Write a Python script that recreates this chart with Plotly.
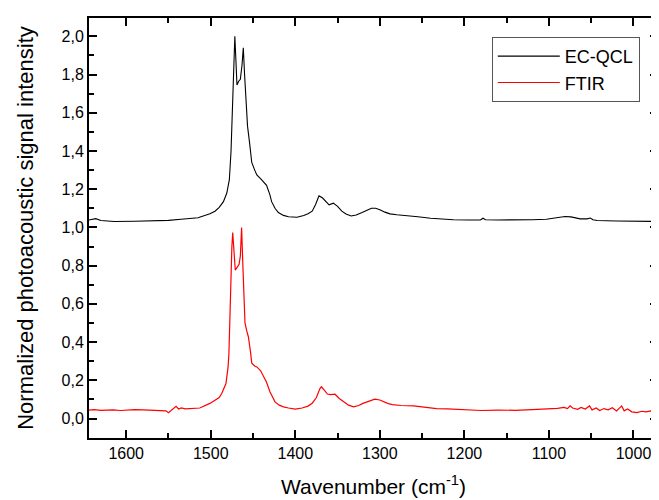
import plotly.graph_objects as go

# EC-QCL spectrum (black)
qcl_x = [1645, 1636, 1630, 1614, 1590, 1566, 1550, 1535, 1524, 1515, 1501, 1495, 1490, 1485, 1481,
         1478, 1476, 1475, 1473, 1471.5, 1470, 1469, 1467, 1465, 1463, 1461.5, 1460, 1458, 1456.5,
         1454, 1451.5, 1448, 1445.5, 1440, 1434, 1430, 1428, 1424, 1420, 1414, 1408, 1398, 1390,
         1385, 1380, 1376, 1372, 1368, 1364, 1360, 1355, 1350, 1345, 1340, 1334, 1328, 1321, 1315,
         1310, 1305, 1300, 1294, 1288, 1280, 1268, 1255, 1240, 1225, 1213, 1195, 1181, 1178, 1175,
         1160, 1142, 1120, 1103, 1095, 1088, 1081, 1074, 1068, 1063, 1055, 1051, 1048, 1043, 1020,
         1000, 985, 971]
qcl_y = [1.038, 1.046, 1.036, 1.031, 1.032, 1.034, 1.037, 1.043, 1.046, 1.051, 1.072, 1.085, 1.105,
         1.135, 1.18, 1.25, 1.40, 1.56, 1.83, 2.00, 1.85, 1.745, 1.765, 1.775, 1.85, 1.94, 1.80,
         1.62, 1.53, 1.44, 1.34, 1.30, 1.275, 1.25, 1.22, 1.17, 1.135, 1.10, 1.078, 1.063, 1.056,
         1.053, 1.062, 1.072, 1.085, 1.12, 1.165, 1.155, 1.135, 1.118, 1.127, 1.11, 1.085, 1.07,
         1.06, 1.065, 1.078, 1.092, 1.100, 1.100, 1.093, 1.08, 1.071, 1.066, 1.062, 1.056, 1.048,
         1.043, 1.040, 1.039, 1.039, 1.048, 1.040, 1.039, 1.039, 1.040, 1.043, 1.048, 1.054, 1.057,
         1.055, 1.048, 1.045, 1.045, 1.049, 1.040, 1.036, 1.034, 1.033, 1.032, 1.031]

# FTIR spectrum (red)
ftir_x = [1645, 1638, 1630, 1622, 1615, 1607, 1600, 1590, 1580, 1570, 1560, 1553, 1550, 1547, 1543,
          1541, 1538, 1535, 1530, 1525, 1513, 1501, 1495, 1490, 1487, 1482, 1479.5, 1478.5, 1477.5,
          1476.5, 1475, 1474, 1472.5, 1471, 1469, 1466.5, 1465, 1463.5, 1462, 1460.5, 1459.5, 1457.5,
          1455.5, 1453, 1451.5, 1448, 1445.5, 1441, 1438, 1434, 1430, 1427, 1424, 1419, 1414, 1408,
          1400, 1392, 1385, 1380, 1375, 1371, 1369, 1366, 1362, 1358, 1353, 1348, 1343, 1337, 1331,
          1325, 1320, 1313, 1306, 1300, 1297, 1290, 1285, 1275, 1260, 1250, 1240, 1233, 1220, 1205,
          1195, 1180, 1160, 1140, 1120, 1100, 1090, 1082, 1078, 1075, 1072, 1066, 1062, 1057, 1052,
          1049, 1044, 1040, 1035, 1030, 1025, 1020, 1016, 1014, 1011, 1007, 1002, 996, 990, 985,
          980, 975, 971]
ftir_y = [0.044, 0.046, 0.043, 0.045, 0.045, 0.042, 0.044, 0.046, 0.045, 0.043, 0.043, 0.040, 0.030,
          0.040, 0.055, 0.064, 0.050, 0.055, 0.050, 0.052, 0.055, 0.079, 0.095, 0.11, 0.131, 0.183,
          0.27, 0.34, 0.50, 0.69, 0.90, 0.973, 0.85, 0.777, 0.79, 0.807, 0.85, 1.000, 0.80, 0.60,
          0.50, 0.46, 0.428, 0.35, 0.29, 0.275, 0.27, 0.25, 0.227, 0.19, 0.14, 0.11, 0.087, 0.07,
          0.061, 0.055, 0.049, 0.055, 0.065, 0.08, 0.11, 0.155, 0.166, 0.15, 0.128, 0.125, 0.127,
          0.105, 0.087, 0.07, 0.061, 0.068, 0.079, 0.092, 0.101, 0.097, 0.091, 0.078, 0.073, 0.068,
          0.066, 0.060, 0.055, 0.052, 0.050, 0.047, 0.044, 0.042, 0.044, 0.043, 0.046, 0.050, 0.053,
          0.058, 0.052, 0.066, 0.055, 0.048, 0.058, 0.050, 0.066, 0.045, 0.055, 0.042, 0.052, 0.045,
          0.056, 0.040, 0.060, 0.066, 0.040, 0.050, 0.035, 0.031, 0.038, 0.035, 0.040, 0.028, 0.026]

FONT = "Liberation Sans, Arial, sans-serif"

fig = go.Figure()
fig.add_trace(go.Scatter(x=qcl_x, y=qcl_y, mode="lines", name="EC-QCL",
                         line=dict(color="black", width=1.1)))
fig.add_trace(go.Scatter(x=ftir_x, y=ftir_y, mode="lines", name="FTIR",
                         line=dict(color="red", width=1.2)))

axis_common = dict(showline=True, linecolor="black", linewidth=2, mirror="ticks",
                   ticks="inside", ticklen=8, tickwidth=2, tickcolor="black",
                   showgrid=False, zeroline=False, automargin=False,
                   tickfont=dict(family=FONT, size=16, color="black"))

fig.update_layout(
    width=651, height=492,
    margin=dict(l=81, r=1, t=10, b=62),
    paper_bgcolor="white", plot_bgcolor="white",
    separators=",.",
    showlegend=True,
    legend=dict(x=0.968, y=0.955, xanchor="right", yanchor="top",
                bordercolor="#555555", borderwidth=1, bgcolor="white",
                font=dict(family=FONT, size=18, color="black"),
                tracegroupgap=0, itemwidth=62),
    xaxis=dict(range=[1644, 971], tickvals=[1600, 1500, 1400, 1300, 1200, 1100, 1000],
               tickformat="d",
               minor=dict(dtick=50, tick0=1000, ticks="inside", ticklen=5, tickwidth=2,
                          tickcolor="black"),
               title=dict(text="Wavenumber (cm<sup>-1</sup>)", standoff=18,
                          font=dict(family=FONT, size=21, color="black")),
               **axis_common),
    yaxis=dict(range=[-0.102, 2.096], tick0=0, dtick=0.2, tickformat=".1f",
               minor=dict(dtick=0.1, tick0=0, ticks="inside", ticklen=5, tickwidth=2,
                          tickcolor="black"),
               title=dict(text="Normalized photoacoustic signal intensity", standoff=22,
                          font=dict(family=FONT, size=22, color="black")),
               **axis_common),
)

fig.write_html("out.html")
